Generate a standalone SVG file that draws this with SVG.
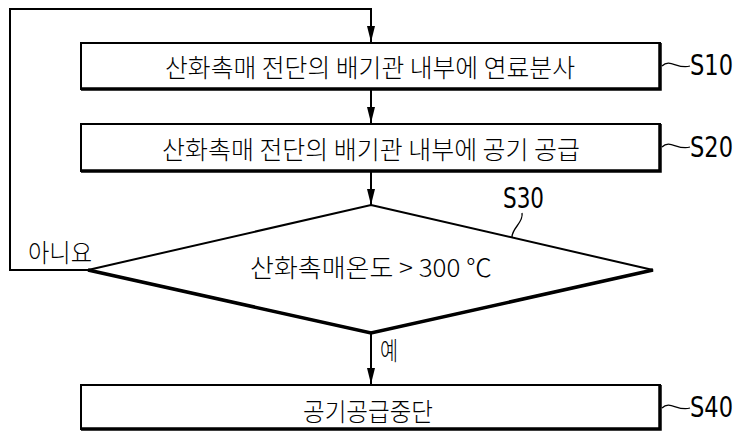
<svg xmlns="http://www.w3.org/2000/svg" width="738" height="432" viewBox="0 0 738 432">
<style>
.box{fill:#fff;stroke:#000;stroke-width:2}
.sh{fill:none;stroke:#000;stroke-width:3.5}
.ln{fill:none;stroke:#000;stroke-width:2}
.ko{font-family:"Noto Sans CJK KR","Noto Sans",sans-serif;font-size:25px;font-weight:300;fill:#000}
.lb{font-family:"DejaVu Sans Condensed","Liberation Sans",sans-serif;font-size:28px;fill:#000}
.sq{fill:none;stroke:#000;stroke-width:1.3}
</style>
<defs>
<marker id="ah" viewBox="0 0 16 8" refX="16" refY="4" markerWidth="16" markerHeight="8" markerUnits="userSpaceOnUse" orient="auto">
<path d="M0,0 L16,4 L0,8 z" fill="#000"/>
</marker>
</defs>
<g id="connectors">
<path class="ln" d="M88,270 L10,270 L10,9 L371,9 L371,42" marker-end="url(#ah)"/>
<path class="ln" d="M371,89 L371,123" marker-end="url(#ah)"/>
<path class="ln" d="M371,172 L371,205" marker-end="url(#ah)"/>
<path class="ln" d="M371,333 L371,384" marker-end="url(#ah)"/>
<text class="ko" x="28" y="262" textLength="64" lengthAdjust="spacingAndGlyphs">아니요</text>
<text class="ko" x="380" y="360" textLength="18" lengthAdjust="spacingAndGlyphs">예</text>
</g>
<g id="S10">
<rect class="box" x="81" y="43" width="579" height="46"/>
<path class="sh" d="M660,43 L660,89 L81,89"/>
<text class="ko" x="370" y="77" text-anchor="middle" textLength="410" lengthAdjust="spacingAndGlyphs">산화촉매 전단의 배기관 내부에 연료분사</text>
<path class="sq" d="M662,66 C670,58 678,70 690,66"/>
<text class="lb" x="690" y="75" textLength="43" lengthAdjust="spacingAndGlyphs">S10</text>
</g>
<g id="S20">
<rect class="box" x="81" y="124" width="579" height="47"/>
<path class="sh" d="M660,124 L660,171 L81,171"/>
<text class="ko" x="371" y="159" text-anchor="middle" textLength="418" lengthAdjust="spacingAndGlyphs">산화촉매 전단의 배기관 내부에 공기 공급</text>
<path class="sq" d="M662,147 C670,139 678,151 690,147"/>
<text class="lb" x="690" y="157" textLength="43" lengthAdjust="spacingAndGlyphs">S20</text>
</g>
<g id="S30">
<polygon class="box" points="371,205 653,270 371,333 88,270"/>
<path class="sh" d="M653,270 L371,333 L88,270"/>
<text class="ko" x="250" y="277" textLength="242" lengthAdjust="spacingAndGlyphs">산화촉매온도 &gt; 300 ℃</text>
<path class="sq" d="M522,213 C524,222 512,228 512,237"/>
<text class="lb" x="503" y="208" textLength="41" lengthAdjust="spacingAndGlyphs">S30</text>
</g>
<g id="S40">
<rect class="box" x="81" y="385" width="579" height="44"/>
<path class="sh" d="M660,385 L660,429 L81,429"/>
<text class="ko" x="303" y="421" textLength="130" lengthAdjust="spacingAndGlyphs">공기공급중단</text>
<path class="sq" d="M662,408 C670,400 678,412 690,408"/>
<text class="lb" x="690" y="417" textLength="43" lengthAdjust="spacingAndGlyphs">S40</text>
</g>
</svg>
